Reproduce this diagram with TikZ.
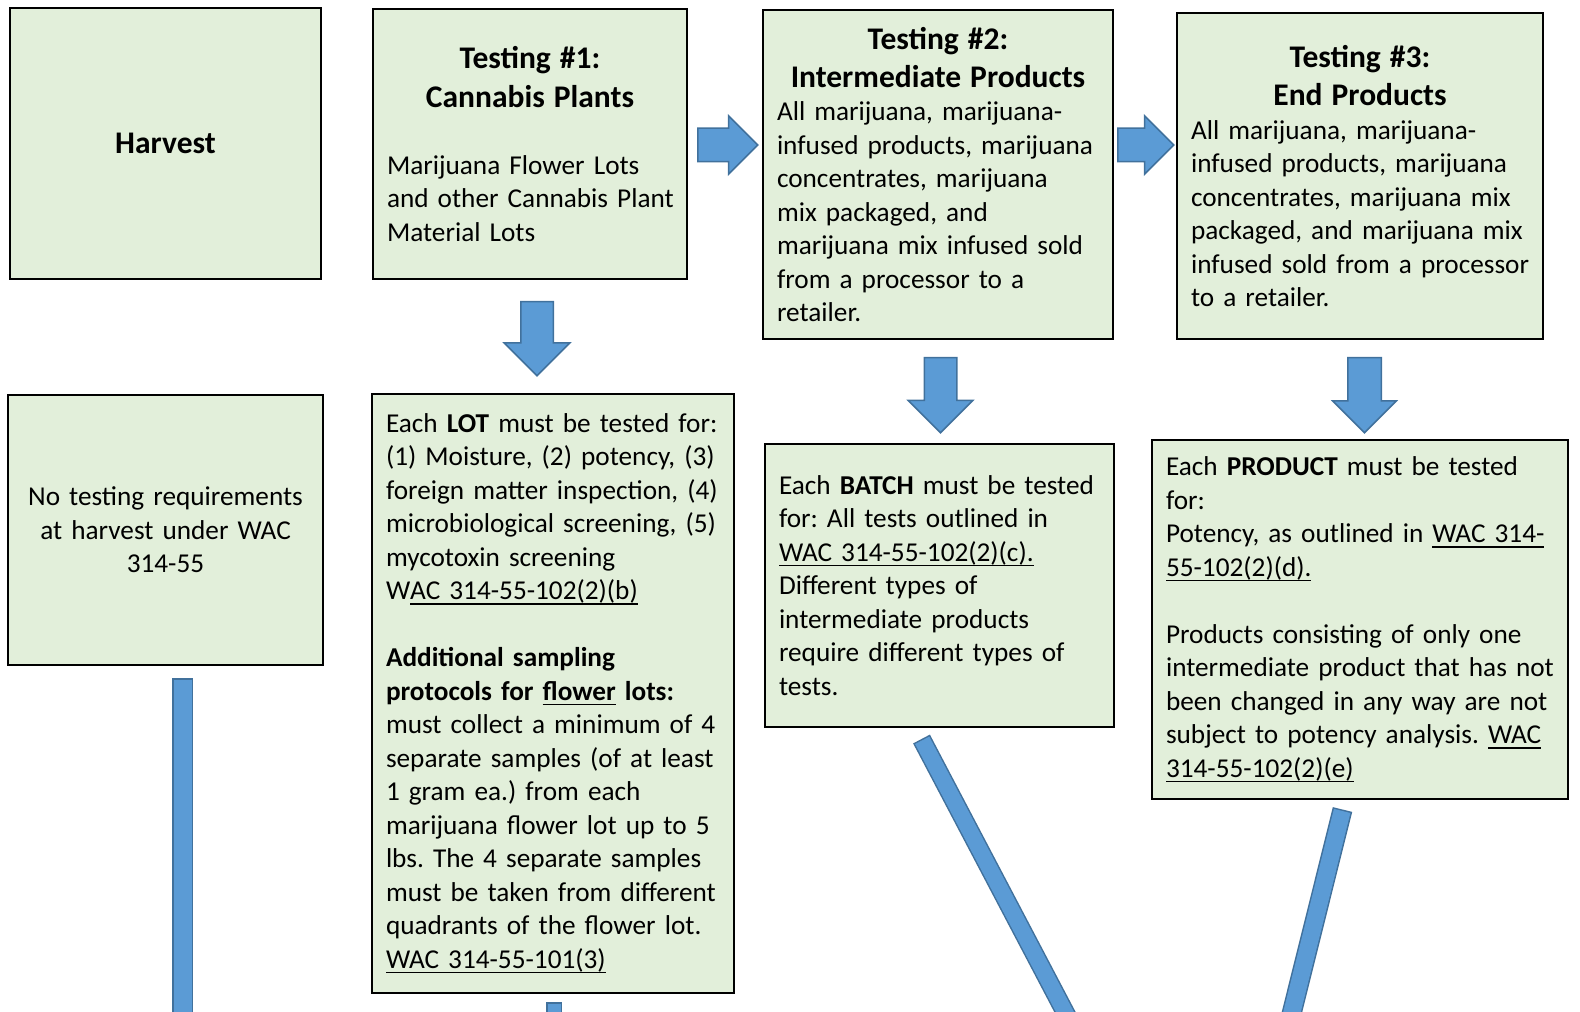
\documentclass[tikz,border=0pt]{standalone}
\usepackage{fontspec}
\setmainfont{Carlito}
\usetikzlibrary{shapes.arrows}
\definecolor{green1}{RGB}{226, 239, 218}
\definecolor{blue1}{RGB}{91, 155, 213}
\definecolor{blue2}{RGB}{65, 113, 156}
\newcommand{\bodysize}{\fontsize{10.9}{13.4}\selectfont}
\newcommand{\headsize}{\fontsize{12.6}{15.3}\selectfont\bfseries}
\newcommand{\uln}[1]{\leavevmode\setbox0\hbox{#1}\rlap{\rule[-2pt]{\wd0}{0.6pt}}\box0\relax}
\frenchspacing

\begin{document}
\begin{tikzpicture}[x=0.4pt, y=-0.4pt, line width=1pt,
  box/.style={rectangle, draw=black, fill=green1, inner xsep=5.6pt, inner ysep=0pt, font=\bodysize,
    execute at begin node={\rightskip=-8pt plus 1fil\relax},
    execute at end node={\endgraf\vskip-4pt}},
  blockarrow/.style={single arrow, draw=blue2, fill=blue1, line width=0.6pt, inner xsep=0pt,
    single arrow head extend=#1},
  bar/.style={draw=blue2, line width=#1, postaction={draw=blue1, line width=#1-1.2pt, shorten <=0.6pt}}]
  \useasboundingbox (0,0) rectangle (1580,1012);
  \clip (0,0) rectangle (1580,1012);
  % top row
  \node[box, minimum width=124.4pt, minimum height=108.4pt, text width=113.2pt] (harvest) at (165.5,143.5)
    {{\centering\headsize Harvest\par}\vskip-1pt};
  \node[box, minimum width=125.6pt, minimum height=108pt, text width=114.4pt] (test1) at (530,144)
    {{\centering\headsize Testing \#1:\\ Cannabis Plants\par}
     \vspace{\baselineskip}
     Marijuana Flower Lots\\
     and other Cannabis Plant\\
     Material Lots};
  \node[box, minimum width=140pt, minimum height=131.6pt, text width=128.8pt] (test2) at (938,174.5)
    {{\centering\headsize Testing \#2:\\ Intermediate Products\par}
     All marijuana, marijuana-\\
     infused products, marijuana\\
     concentrates, marijuana\\
     mix packaged, and\\
     marijuana mix infused sold\\
     from a processor to a\\
     retailer.\par\vskip1.2pt};
  \node[box, minimum width=146.4pt, minimum height=130.4pt, text width=135.2pt] (test3) at (1360,176)
    {{\centering\headsize Testing \#3:\\ End Products\par}
     All marijuana, marijuana-\\
     infused products, marijuana\\
     concentrates, marijuana mix\\
     packaged, and marijuana mix\\
     infused sold from a processor\\
     to a retailer.};
  % bottom row
  \node[box, minimum width=126pt, minimum height=108pt, text width=114.8pt] (notest) at (165.5,530)
    {{\centering No testing requirements\\ at harvest under WAC\\ 314-55\par}\vskip-0.6pt};
  \node[box, minimum width=144.8pt, minimum height=239.6pt, text width=133.6pt] (lot) at (553,693.5)
    {Each \textbf{LOT} must be tested for:\\
     (1) Moisture, (2) potency, (3)\\
     foreign matter inspection, (4)\\
     microbiological screening, (5)\\
     mycotoxin screening\\
     W\uln{AC 314-55-102(2)(b)}\\[\baselineskip]
     \textbf{Additional sampling}\\
     \textbf{protocols for \uln{flower} lots:}\\
     must collect a minimum of 4\\
     separate samples (of at least\\
     1 gram ea.) from each\\
     marijuana flower lot up to 5\\
     lbs. The 4 separate samples\\
     must be taken from different\\
     quadrants of the flower lot.\\
     \uln{WAC 314-55-101(3)}\par\vskip-2.4pt};
  \node[box, minimum width=139.6pt, minimum height=113.2pt, text width=128.4pt] (batch) at (939.5,585.5)
    {Each \textbf{BATCH} must be tested\\
     for: All tests outlined in\\
     \uln{WAC 314-55-102(2)(c).}\\
     Different types of\\
     intermediate products\\
     require different types of\\
     tests.};
  \node[box, minimum width=166.4pt, minimum height=143.6pt, text width=155.2pt] (product) at (1360,619.5)
    {Each \textbf{PRODUCT} must be tested\\
     for:\\
     Potency, as outlined in \uln{WAC 314-}\\
     \uln{55-102(2)(d).}\\[\baselineskip]
     Products consisting of only one\\
     intermediate product that has not\\
     been changed in any way are not\\
     subject to potency analysis. \uln{WAC}\\
     \uln{314-55-102(2)(e)}\par\vskip-2.2pt};
  % block arrows
  \node[blockarrow=5pt, inner ysep=6.4pt, minimum height=24pt, anchor=tail] (arr1) at (697,145) {};
  \node[blockarrow=5pt, inner ysep=6.4pt, minimum height=22.4pt, anchor=tail] (arr2) at (1117,145) {};
  \node[blockarrow=6.6pt, inner ysep=6.2pt, minimum height=29.6pt, rotate=-90, anchor=tail] (down1) at (537,301) {};
  \node[blockarrow=6.4pt, inner ysep=6.2pt, minimum height=30pt, rotate=-90, anchor=tail] (down2) at (940.5,357) {};
  \node[blockarrow=6pt, inner ysep=6.4pt, minimum height=30pt, rotate=-90, anchor=tail] (down3) at (1364.5,357) {};
  % bars running off the page
  \draw[bar=8.4pt] (182.5,678) -- (182.5,1030);
  \draw[bar=6.4pt] (554,1002) -- (554,1030);
  \draw[bar=7.6pt] (921.5,739) -- (1074.4,1030);
  \draw[bar=8pt] (1342.5,809.5) -- (1287.5,1030);
\end{tikzpicture}
\end{document}
